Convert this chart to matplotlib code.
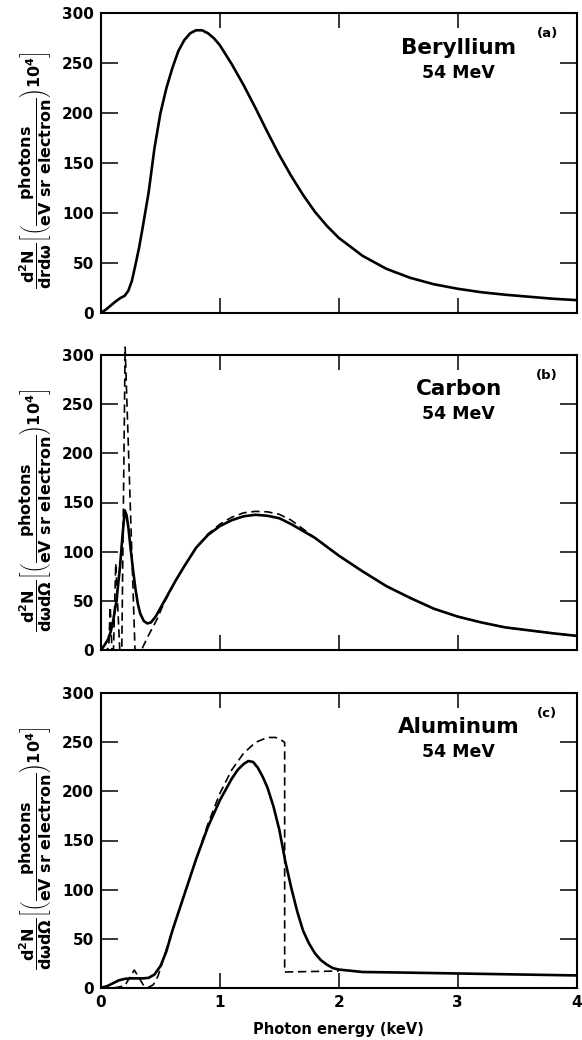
import matplotlib
matplotlib.use("Agg")
import matplotlib.pyplot as plt

# ---- data (photon energy in keV, yield in 1e-4 units) ----
be_x = [0, 0.04, 0.08, 0.12, 0.16, 0.2, 0.23, 0.26, 0.29, 0.32, 0.35, 0.40, 0.45,
        0.50, 0.55, 0.60, 0.65, 0.70, 0.75, 0.80, 0.85, 0.90, 0.95, 1.0, 1.1, 1.2,
        1.3, 1.4, 1.5, 1.6, 1.7, 1.8, 1.9, 2.0, 2.2, 2.4, 2.6, 2.8, 3.0, 3.2, 3.4,
        3.6, 3.8, 4.0]
be_y = [0, 3, 7, 11, 14.5, 17, 22, 32, 48, 65, 85, 120, 165, 200, 225, 245, 262,
        273, 280, 283, 283, 280, 275, 268, 249, 228, 205, 181, 158, 137, 118, 101,
        87, 75, 57, 44, 35, 28.5, 24, 20.5, 18, 16, 14, 12.6]

c_x = [0, 0.03, 0.06, 0.08, 0.10, 0.13, 0.16, 0.18, 0.20, 0.215, 0.23, 0.25, 0.27,
       0.29, 0.31, 0.33, 0.36, 0.39, 0.42, 0.46, 0.52, 0.57, 0.63, 0.70, 0.8, 0.9,
       1.0, 1.1, 1.2, 1.3, 1.4, 1.5, 1.6, 1.7, 1.8, 1.9, 2.0, 2.2, 2.4, 2.6, 2.8,
       3.0, 3.2, 3.4, 3.6, 3.8, 4.0]
c_y = [0, 5, 11, 18, 28, 50, 85, 115, 142, 137, 125, 102, 81, 62, 47, 37, 29.5, 27,
       28, 34, 47, 58, 71, 85, 104, 117, 126, 132, 136, 137.5, 136.5, 134, 128,
       121, 114, 105, 96, 80, 65, 53, 42, 34, 28, 23, 20, 17, 14.4]

c_calc_x = [0, 0.05, 0.065, 0.078, 0.092, 0.105, 0.124, 0.158, 0.175, 0.203, 0.286,
            0.34, 0.40, 0.47, 0.52, 0.57, 0.63, 0.70, 0.8, 0.9, 1.0, 1.1, 1.2, 1.3,
            1.4, 1.5, 1.6, 1.7, 1.8, 1.9, 2.0, 2.2, 2.4, 2.6, 2.8, 3.0, 3.2, 3.4,
            3.6, 3.8, 4.0]
c_calc_y = [0, 0, 3, 44, 0, 0, 88, 0, 0, 308, 0, 0, 15, 31, 45, 57, 71, 85, 104,
            118, 128, 135, 139.5, 141, 140.5, 138, 132, 123, 114, 105, 96, 80, 65,
            53, 42, 34, 28, 23, 20, 17, 14.4]

al_x = [0, 0.05, 0.1, 0.15, 0.2, 0.25, 0.3, 0.35, 0.4, 0.45, 0.5, 0.55, 0.6, 0.7,
        0.8, 0.9, 1.0, 1.1, 1.15, 1.2, 1.24, 1.28, 1.32, 1.36, 1.4, 1.45, 1.5, 1.55,
        1.6, 1.65, 1.7, 1.75, 1.8, 1.85, 1.9, 1.95, 2.0, 2.2, 2.5, 3.0, 3.5, 4.0]
al_y = [0, 1.5, 4.5, 7.5, 9, 9.5, 9.5, 9.5, 10, 13.5, 22, 37, 58, 94.5, 131, 164,
        191, 213, 222, 228, 231, 230, 224, 215, 204, 185, 161, 129, 102, 78, 58,
        45, 35, 28, 23.5, 20, 18.5, 16, 15.5, 14.5, 13.5, 12.5]

al_calc_x = [0, 0.12, 0.2, 0.24, 0.28, 0.32, 0.36, 0.4, 0.44, 0.48, 0.52, 0.56, 0.6,
             0.7, 0.8, 0.9, 1.0, 1.1, 1.2, 1.3, 1.4, 1.47, 1.52, 1.545, 1.545, 2.0]
al_calc_y = [0, 0, 2, 10, 18, 10, 2, 0.5, 3, 12, 27, 43, 58, 95, 131, 167, 198,
             222, 239, 250, 255, 255, 252, 250, 16, 17]

targets = ["Beryllium", "Carbon", "Aluminum"]
panel_tags = ["(a)", "(b)", "(c)"]
beam = "54 MeV"
yticks = [0, 50, 100, 150, 200, 250, 300]
xticks = [0, 1, 2, 3, 4]

ylabels = [
    r"$\dfrac{d^2N}{drd\omega}\left[\left(\dfrac{photons}{eV\ sr\ electron}\right)10^4\right]$",
    r"$\dfrac{d^2N}{d\omega d\Omega}\left[\left(\dfrac{photons}{eV\ sr\ electron}\right)10^4\right]$",
    r"$\dfrac{d^2N}{d\omega d\Omega}\left[\left(\dfrac{photons}{eV\ sr\ electron}\right)10^4\right]$",
]

plt.rcParams["font.family"] = "DejaVu Sans"
plt.rcParams["font.weight"] = "bold"
plt.rcParams["mathtext.fontset"] = "custom"
plt.rcParams["mathtext.rm"] = "DejaVu Sans:bold"
plt.rcParams["mathtext.bf"] = "DejaVu Sans:bold"
plt.rcParams["mathtext.it"] = "DejaVu Sans:bold"
plt.rcParams["mathtext.sf"] = "DejaVu Sans:bold"
plt.rcParams["mathtext.default"] = "rm"

fig = plt.figure(figsize=(5.82, 10.4), dpi=100)

W, H = 582.0, 1040.0
left, right = 101, 576.5
boxes = [(13.3, 312.7), (355.0, 650.0), (693.3, 987.7)]  # top, bottom in pixels

solid = [(be_x, be_y), (c_x, c_y), (al_x, al_y)]
dashed = [None, (c_calc_x, c_calc_y), (al_calc_x, al_calc_y)]

axes = []
for i, (top, bot) in enumerate(boxes):
    ax = fig.add_axes([left / W, 1 - bot / H, (right - left) / W, (bot - top) / H])
    axes.append(ax)
    sx, sy = solid[i]
    ax.plot(sx, sy, color="black", lw=1.9, solid_joinstyle="round",
            solid_capstyle="round")
    if dashed[i] is not None:
        dx, dy = dashed[i]
        ax.plot(dx, dy, color="black", lw=1.2, dashes=(5, 2.8), clip_on=False)
    ax.set_xlim(0, 4)
    ax.set_ylim(0, 300)
    ax.set_xticks(xticks)
    ax.set_yticks(yticks)
    ax.tick_params(axis="both", direction="in", top=True, right=True,
                   width=1.1, labelsize=11)
    ax.tick_params(axis="x", length=11, pad=5)
    ax.tick_params(axis="y", length=12, pad=5)
    for s in ax.spines.values():
        s.set_linewidth(1.5)
    if i < 2:
        ax.tick_params(axis="x", labelbottom=False)

    ax.text(0.752, 0.885, targets[i], transform=ax.transAxes, ha="center",
            va="center", fontsize=15.5, fontweight="bold")
    ax.text(0.752, 0.80, beam, transform=ax.transAxes, ha="center",
            va="center", fontsize=12.5, fontweight="bold")
    ax.text(0.938, 0.932, panel_tags[i], transform=ax.transAxes, ha="center",
            va="center", fontsize=9.5, fontweight="bold")
    ax.text(-0.137, 0.475, ylabels[i], transform=ax.transAxes, rotation=90,
            ha="center", va="center", fontsize=11.5)

axes[2].set_xlabel("Photon energy (keV)", fontsize=10.5, fontweight="bold",
                   labelpad=9)

fig.savefig("out.png", dpi=100)
